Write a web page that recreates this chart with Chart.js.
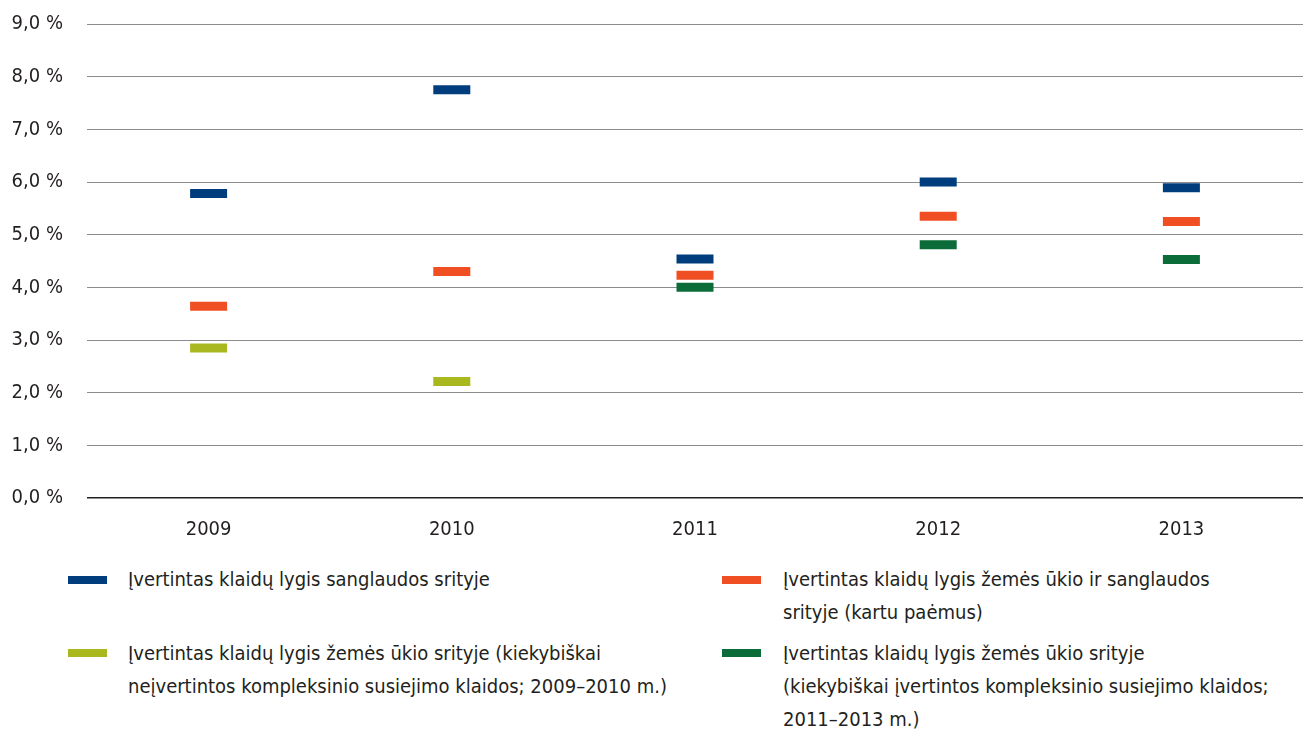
<!DOCTYPE html>
<html lang="lt">
<head>
<meta charset="utf-8">
<script src="https://cdn.jsdelivr.net/npm/chart.js@4/dist/chart.umd.min.js"></script>
<style>
  html, body { margin: 0; padding: 0; background: #fff; }
  body { width: 1303px; height: 729px; position: relative; overflow: hidden;
         font-family: "Liberation Sans Narrow", "DejaVu Sans Condensed", "Roboto", sans-serif; color: #231f20; }
  #wrap { position: absolute; left: 0; top: 0; width: 1303px; height: 550px; }
  .sw { position: absolute; width: 39px; height: 8px; }
  .txt { position: absolute; font-size: 20px; line-height: 33px; white-space: nowrap; }
</style>
</head>
<body>
<div id="wrap"><canvas id="c"></canvas></div>
<div id="legend"></div>
<script>
const categories = ["2009", "2010", "2011", "2012", "2013"];
const cohesion = [5.78, 7.75, 4.54, 6.0, 5.89];
const combined = [3.64, 4.30, 4.23, 5.35, 5.25];
const agriNoComplex = [2.85, 2.21, null, null, null];
const agriComplex = [null, null, 4.0, 4.81, 4.53];
const yTicks = [0, 1, 2, 3, 4, 5, 6, 7, 8, 9];

const seriesNames = [
  "Įvertintas klaidų lygis sanglaudos srityje",
  "Įvertintas klaidų lygis žemės ūkio ir sanglaudos<br>srityje (kartu paėmus)",
  "Įvertintas klaidų lygis žemės ūkio srityje (kiekybiškai<br>neįvertintos kompleksinio susiejimo klaidos; 2009–2010 m.)",
  "Įvertintas klaidų lygis žemės ūkio srityje<br>(kiekybiškai įvertintos kompleksinio susiejimo klaidos;<br>2011–2013 m.)"
];
const colors = ["#003d7c", "#f04e23", "#a9b81f", "#0b6b39"];

const FONT = '"Liberation Sans Narrow", "DejaVu Sans Condensed", Roboto, sans-serif';

function ds(label, data, color) {
  return {
    label, data,
    showLine: false,
    pointStyle: 'line',
    pointRadius: 18.5,
    pointHoverRadius: 18.5,
    borderWidth: 9,
    pointBorderWidth: 9,
    pointHoverBorderWidth: 9,
    borderColor: color,
    backgroundColor: color,
    pointBorderColor: color
  };
}

new Chart(document.getElementById('c'), {
  type: 'line',
  data: {
    labels: categories,
    datasets: [
      ds(seriesNames[0], cohesion, colors[0]),
      ds(seriesNames[1], combined, colors[1]),
      ds(seriesNames[2], agriNoComplex, colors[2]),
      ds(seriesNames[3], agriComplex, colors[3])
    ]
  },
  options: {
    responsive: true,
    maintainAspectRatio: false,
    animation: false,
    events: [],
    layout: { autoPadding: false, padding: { top: 24, left: 0, right: 0, bottom: 0 } },
    plugins: { legend: { display: false }, tooltip: { enabled: false } },
    scales: {
      x: {
        offset: true,
        grid: { display: false, drawTicks: false },
        border: { display: false },
        ticks: { color: '#231f20', font: { family: FONT, size: 20 }, padding: 20, maxRotation: 0 },
        afterFit: s => { s.height = 52; s.paddingLeft = 0; s.paddingRight = 0; }
      },
      y: {
        min: 0, max: 9,
        afterBuildTicks: s => { s.ticks = yTicks.map(v => ({ value: v })); },
        grid: {
          drawTicks: false,
          color: c => c.tick && c.tick.value === 0 ? '#231f20' : '#8c8c8c',
          lineWidth: c => c.tick && c.tick.value === 0 ? 1.6 : 1
        },
        border: { display: false },
        ticks: {
          color: '#231f20', font: { family: FONT, size: 20 }, padding: 24,
          callback: v => v.toFixed(1).replace('.', ',') + ' %'
        },
        afterFit: s => { s.width = 87; s.paddingTop = 0; s.paddingBottom = 0; }
      }
    }
  }
});

const legendPos = [
  { sx: 68, sy: 576, tx: 128, ty: 563 },
  { sx: 722, sy: 576, tx: 783, ty: 563 },
  { sx: 68, sy: 649, tx: 128, ty: 637 },
  { sx: 722, sy: 649, tx: 783, ty: 637 }
];
const lg = document.getElementById('legend');
seriesNames.forEach((name, i) => {
  const p = legendPos[i];
  const sw = document.createElement('div');
  sw.className = 'sw';
  sw.style.left = p.sx + 'px'; sw.style.top = p.sy + 'px'; sw.style.background = colors[i];
  const t = document.createElement('div');
  t.className = 'txt';
  t.style.left = p.tx + 'px'; t.style.top = p.ty + 'px';
  t.innerHTML = name;
  lg.appendChild(sw); lg.appendChild(t);
});
</script>
</body>
</html>
